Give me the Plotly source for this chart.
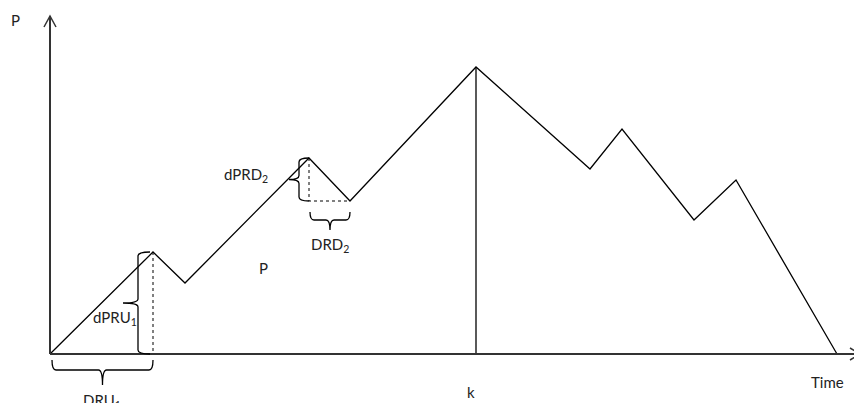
import plotly.graph_objects as go

# Ramp profile (time, power); origin at the axes corner
time = [0, 103, 135, 259, 300, 426, 540, 572, 644, 686, 787]
power = [0, 102, 71, 196, 153, 287, 185, 225, 134, 174, 0]

peak_up = 1      # end of first ramp up (dPRU1 / DRU1)
peak_down = 3    # start of second ramp down (dPRD2 / DRD2)
trough_down = 4
k_idx = 5        # maximum, time k

LINE = "#000000"
AXIS = "#333333"
FONT = "Lato, 'Open Sans', sans-serif"


def brace_v(x, y0, y1, d, tip):
    # vertical curly brace at x, ends curl right by d, tip points left
    ym = (y0 + y1) / 2
    r = 4
    return (f"M {x + d},{y0} Q {x},{y0} {x},{y0 - r} L {x},{ym + r} "
            f"Q {x},{ym} {x - tip},{ym} Q {x},{ym} {x},{ym - r} "
            f"L {x},{y1 + r} Q {x},{y1} {x + d},{y1}")


def brace_h(x0, x1, y, d, tip, xm=None):
    # horizontal curly brace at y, ends curl up by d, tip points down
    xm = (x0 + x1) / 2 if xm is None else xm
    r = 4
    return (f"M {x0},{y + d} Q {x0},{y} {x0 + r},{y} L {xm - r},{y} "
            f"Q {xm},{y} {xm},{y - tip} Q {xm},{y} {xm + r},{y} "
            f"L {x1 - r},{y} Q {x1},{y} {x1},{y + d}")


fig = go.Figure()

# power profile
fig.add_trace(go.Scatter(x=time, y=power, mode="lines",
                         line=dict(color=LINE, width=1.3), hoverinfo="skip"))

# vertical line at k
fig.add_trace(go.Scatter(x=[time[k_idx], time[k_idx]], y=[power[k_idx], 0],
                         mode="lines", line=dict(color=LINE, width=1.3),
                         hoverinfo="skip"))

# dotted helper lines
fig.add_trace(go.Scatter(x=[time[peak_up], time[peak_up]], y=[power[peak_up], 0],
                         mode="lines", line=dict(color=LINE, width=1, dash="dot"),
                         hoverinfo="skip"))
fig.add_trace(go.Scatter(
    x=[time[peak_down], time[peak_down], time[trough_down]],
    y=[power[peak_down], power[trough_down], power[trough_down]],
    mode="lines", line=dict(color=LINE, width=1, dash="dot"), hoverinfo="skip"))

shapes = [
    # axes
    dict(type="line", x0=0, y0=0, x1=0, y1=338, line=dict(color=AXIS, width=2)),
    dict(type="line", x0=0, y0=0, x1=810, y1=0, line=dict(color=AXIS, width=2)),
    dict(type="path", path="M -6,327 L 0,338 L 6,327", line=dict(color=AXIS, width=1.5)),
    dict(type="path", path="M 800,6 L 810,0 L 800,-6", line=dict(color=AXIS, width=1.5)),
    # braces
    dict(type="path", path=brace_v(88, power[peak_up], 0, 12, 15),
         line=dict(color=LINE, width=1.3)),
    dict(type="path", path=brace_h(2, time[peak_up], -16, 10, 15),
         line=dict(color=LINE, width=1.3)),
    dict(type="path", path=brace_v(249, power[peak_down], power[trough_down], 10, 10),
         line=dict(color=LINE, width=1.3)),
    dict(type="path", path=brace_h(260, 300, 134, 8, 10),
         line=dict(color=LINE, width=1.3)),
]

labels = [
    ("P", -35, 334),
    ("dPRU<sub>1</sub>", 65, 36),
    ("DRU<sub>1</sub>", 52, -47),
    ("dPRD<sub>2</sub>", 196, 179),
    ("DRD<sub>2</sub>", 280, 109),
    ("P", 213, 86),
    ("k", 421, -38),
    ("Time", 777, -28),
]
annotations = [dict(text=t, x=x, y=y, showarrow=False,
                    font=dict(family=FONT, size=15, color="#222222"))
               for t, x, y in labels]

# the page body adds an 8px margin, so the figure is a bit smaller than the window
fig.update_layout(
    width=854, height=395,
    margin=dict(l=0, r=0, t=0, b=0),
    paper_bgcolor="white", plot_bgcolor="white",
    showlegend=False,
    shapes=shapes, annotations=annotations,
    xaxis=dict(range=[-42, 812], visible=False, fixedrange=True),
    yaxis=dict(range=[-49, 346], visible=False, fixedrange=True),
)

fig.write_html("out.html")
